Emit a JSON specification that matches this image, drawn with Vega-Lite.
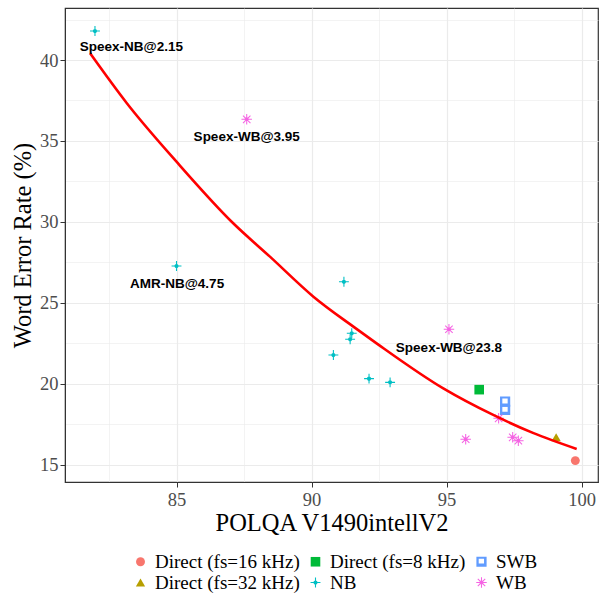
{
  "$schema": "https://vega.github.io/schema/vega-lite/v6.json",
  "width": 533,
  "height": 474,
  "autosize": {"type": "none"},
  "padding": {"left": 65, "top": 8, "right": 2, "bottom": 113},
  "background": "white",
  "config": {
    "view": {"stroke": "#333333", "strokeWidth": 1.2},
    "font": "Liberation Serif"
  },
  "datasets": {
    "pts": [
      {"x": 81.98, "y": 41.79, "type": "NB"},
      {"x": 85.0, "y": 27.28, "type": "NB"},
      {"x": 91.2, "y": 26.31, "type": "NB"},
      {"x": 91.49, "y": 23.13, "type": "NB"},
      {"x": 91.43, "y": 22.76, "type": "NB"},
      {"x": 90.81, "y": 21.79, "type": "NB"},
      {"x": 92.13, "y": 20.33, "type": "NB"},
      {"x": 92.91, "y": 20.1, "type": "NB"},
      {"x": 96.21, "y": 19.65, "type": "Direct (fs=8 kHz)"},
      {"x": 97.17, "y": 18.91, "type": "SWB"},
      {"x": 97.17, "y": 18.4, "type": "SWB"},
      {"x": 95.09, "y": 23.38, "type": "WB"},
      {"x": 87.6, "y": 36.34, "type": "WB"},
      {"x": 96.93, "y": 17.88, "type": "WB"},
      {"x": 95.71, "y": 16.59, "type": "WB"},
      {"x": 97.45, "y": 16.71, "type": "WB"},
      {"x": 97.66, "y": 16.5, "type": "WB"},
      {"x": 99.06, "y": 16.71, "type": "Direct (fs=32 kHz)"},
      {"x": 99.77, "y": 15.27, "type": "Direct (fs=16 kHz)"}
    ],
    "fit": [
      {"x": 81.8, "y": 40.41},
      {"x": 83.16, "y": 37.33},
      {"x": 85.0, "y": 33.72},
      {"x": 87.1, "y": 29.92},
      {"x": 88.46, "y": 27.86},
      {"x": 90.07, "y": 25.39},
      {"x": 91.55, "y": 23.54},
      {"x": 92.41, "y": 22.51},
      {"x": 94.88, "y": 19.73},
      {"x": 96.73, "y": 18.09},
      {"x": 98.2, "y": 16.98},
      {"x": 99.82, "y": 15.99}
    ],
    "labels": [
      {"x": 83.33, "y": 40.78, "label": "Speex-NB@2.15"},
      {"x": 87.6, "y": 35.23, "label": "Speex-WB@3.95"},
      {"x": 85.02, "y": 26.17, "label": "AMR-NB@4.75"},
      {"x": 95.09, "y": 22.2, "label": "Speex-WB@23.8"}
    ]
  },
  "layer": [
    {
      "data": {"name": "pts"},
      "mark": {"type": "point", "filled": true, "opacity": 1},
      "encoding": {
        "x": {
          "field": "x", "type": "quantitative",
          "scale": {"domain": [80.87, 100.61], "nice": false, "zero": false},
          "axis": {
            "title": "POLQA V1490intellV2",
            "values": [82.5, 85, 87.5, 90, 92.5, 95, 97.5, 100],
            "labelExpr": "datum.value % 5 == 0 ? format(datum.value, 'd') : ''",
            "gridColor": "#EBEBEB",
            "gridWidth": {"condition": {"test": "datum.value % 5 == 0", "value": 1.2}, "value": 0.6},
            "tickOpacity": {"condition": {"test": "datum.value % 5 == 0", "value": 1}, "value": 0},
            "tickColor": "#333333",
            "tickSize": 5,
            "domainColor": "#333333",
            "labelFont": "Liberation Serif",
            "labelFontSize": 18.5,
            "labelColor": "#4D4D4D",
            "labelPadding": 3,
            "titleFont": "Liberation Serif",
            "titleFontSize": 24.5,
            "titleFontWeight": "normal",
            "titleColor": "#000000",
            "titlePadding": 3
          }
        },
        "y": {
          "field": "y", "type": "quantitative",
          "scale": {"domain": [13.95, 43.21], "nice": false, "zero": false},
          "axis": {
            "title": "Word Error Rate (%)",
            "values": [15, 17.5, 20, 22.5, 25, 27.5, 30, 32.5, 35, 37.5, 40, 42.5],
            "labelExpr": "datum.value % 5 == 0 ? format(datum.value, 'd') : ''",
            "gridColor": "#EBEBEB",
            "gridWidth": {"condition": {"test": "datum.value % 5 == 0", "value": 1.2}, "value": 0.6},
            "tickOpacity": {"condition": {"test": "datum.value % 5 == 0", "value": 1}, "value": 0},
            "tickColor": "#333333",
            "tickSize": 5,
            "domainColor": "#333333",
            "labelFont": "Liberation Serif",
            "labelFontSize": 18.5,
            "labelColor": "#4D4D4D",
            "labelPadding": 2,
            "titleFont": "Liberation Serif",
            "titleFontSize": 24.5,
            "titleFontWeight": "normal",
            "titleColor": "#000000",
            "titlePadding": 4
          }
        },
        "color": {
          "field": "type", "type": "nominal",
          "scale": {
            "domain": ["Direct (fs=16 kHz)", "Direct (fs=32 kHz)", "Direct (fs=8 kHz)", "NB", "SWB", "WB"],
            "range": ["#F8766D", "#B79F00", "#00BA38", "#00BFC4", "#619CFF", "#F564E3"]
          },
          "legend": {
            "title": null,
            "orient": "none",
            "legendX": 66,
            "legendY": 544,
            "columns": 3,
            "padding": 0,
            "columnPadding": 6,
            "rowPadding": 1,
            "labelFont": "Liberation Serif",
            "labelFontSize": 19,
            "labelColor": "#000000",
            "labelOffset": 5,
            "symbolOpacity": 1
          }
        },
        "shape": {
          "field": "type", "type": "nominal",
          "scale": {
            "domain": ["Direct (fs=16 kHz)", "Direct (fs=32 kHz)", "Direct (fs=8 kHz)", "NB", "SWB", "WB"],
            "range": [
              "circle",
              "triangle-up",
              "square",
              "M-1,-0.11H1V0.11H-1Z M-0.11,-1H0.11V1H-0.11Z M-0.42,0 A0.42,0.42 0 1,1 0.42,0 A0.42,0.42 0 1,1 -0.42,0 Z",
              "M-1,-1H1V1H-1Z M-0.55,-0.6V0.35H0.5V-0.6Z",
              "M-1,-0.1H1V0.1H-1Z M-0.1,-1H0.1V1H-0.1Z M-0.64,-0.78L0.78,0.64L0.64,0.78L-0.78,-0.64Z M-0.78,0.64L0.64,-0.78L0.78,-0.64L-0.64,0.78Z M-0.38,0 A0.38,0.38 0 1,1 0.38,0 A0.38,0.38 0 1,1 -0.38,0 Z"
            ]
          }
        },
        "size": {
          "field": "type", "type": "nominal",
          "scale": {
            "domain": ["Direct (fs=16 kHz)", "Direct (fs=32 kHz)", "Direct (fs=8 kHz)", "NB", "SWB", "WB"],
            "range": [80, 110, 100, 225, 130, 225]
          }
        }
      }
    },
    {
      "data": {"name": "fit"},
      "mark": {"type": "line", "color": "#FF0000", "strokeWidth": 2.6, "interpolate": "monotone"},
      "encoding": {
        "x": {"field": "x", "type": "quantitative"},
        "y": {"field": "y", "type": "quantitative"}
      }
    },
    {
      "data": {"name": "labels"},
      "mark": {"type": "text", "font": "Liberation Sans", "fontSize": 13.5, "fontWeight": "bold", "color": "#000000", "align": "center", "baseline": "middle"},
      "encoding": {
        "x": {"field": "x", "type": "quantitative"},
        "y": {"field": "y", "type": "quantitative"},
        "text": {"field": "label"}
      }
    }
  ]
}
